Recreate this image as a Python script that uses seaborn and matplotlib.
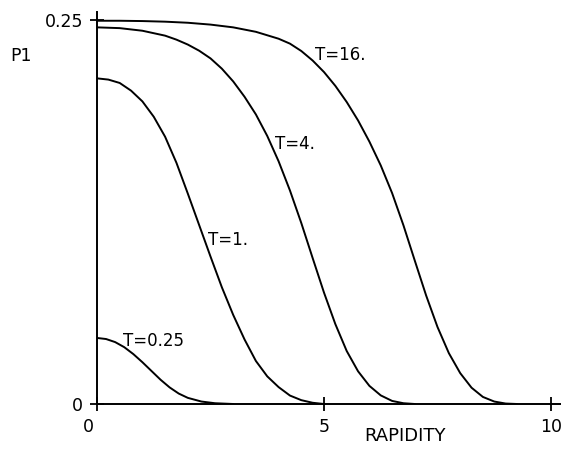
import numpy as np
import pandas as pd
import matplotlib
matplotlib.use("Agg")
import matplotlib.pyplot as plt
from matplotlib.transforms import ScaledTranslation
import seaborn as sns

# ---------------- DATA ---------------- #
x_t025 = [0, 0.2, 0.4, 0.6, 0.8, 1.0, 1.2, 1.4, 1.6, 1.8, 2.0, 2.3, 2.6, 3.0]
p_t025 = [0.043, 0.0423, 0.0403, 0.0370, 0.0325, 0.0272, 0.0215, 0.0158,
          0.0108, 0.0068, 0.0040, 0.0016, 0.0005, 0.0]

x_t1 = [0, 0.25, 0.5, 0.75, 1.0, 1.25, 1.5, 1.75, 2.0, 2.25, 2.5, 2.75,
        3.0, 3.25, 3.5, 3.75, 4.0, 4.25, 4.5, 4.75, 5.0]
p_t1 = [0.212, 0.2112, 0.209, 0.204, 0.197, 0.187, 0.174, 0.157, 0.137,
        0.1165, 0.096, 0.076, 0.058, 0.042, 0.028, 0.018, 0.011, 0.0055,
        0.0025, 0.0008, 0.0]

x_t4 = [0, 0.5, 1.0, 1.5, 1.75, 2.0, 2.25, 2.5, 2.75, 3.0, 3.25, 3.5, 3.75,
        4.0, 4.25, 4.5, 4.75, 5.0, 5.25, 5.5, 5.75, 6.0, 6.25, 6.5, 6.75, 7.0]
p_t4 = [0.2452, 0.2447, 0.2430, 0.2398, 0.2372, 0.2340, 0.2300, 0.2250,
        0.2183, 0.2100, 0.2000, 0.1885, 0.1745, 0.1580, 0.1390, 0.1178,
        0.0950, 0.0725, 0.0520, 0.0345, 0.0213, 0.0118, 0.0056, 0.0020,
        0.0005, 0.0]

x_t16 = [0, 0.5, 1.0, 1.5, 2.0, 2.5, 3.0, 3.5, 4.0, 4.25, 4.5, 4.75, 5.0,
         5.25, 5.5, 5.75, 6.0, 6.25, 6.5, 6.75, 7.0, 7.25, 7.5, 7.75, 8.0,
         8.25, 8.5, 8.75, 9.0, 9.25]
p_t16 = [0.2495, 0.2495, 0.2493, 0.2489, 0.2482, 0.2470, 0.2452, 0.2423,
         0.2378, 0.2346, 0.2298, 0.2236, 0.2161, 0.2071, 0.1966, 0.1846,
         0.1708, 0.1553, 0.1373, 0.1163, 0.0933, 0.0706, 0.0501, 0.0331,
         0.0201, 0.0106, 0.0046, 0.0016, 0.0003, 0.0]

curve_labels = ["T=0.25", "T=1.", "T=4.", "T=16."]
label_x = [0.57, 2.45, 3.92, 4.80]
label_y = [0.0407, 0.107, 0.169, 0.227]

x_ticks = [0, 5, 10]
y_ticks = [0, 0.25]
y_ticklabels = ["0", "0.25"]

# ---------------- FRAME ---------------- #
frames = []
for name, xs, ps in zip(curve_labels, [x_t025, x_t1, x_t4, x_t16],
                        [p_t025, p_t1, p_t4, p_t16]):
    frames.append(pd.DataFrame({"rapidity": xs, "p1": ps, "T": name}))
df = pd.concat(frames, ignore_index=True)

# ---------------- PLOT ---------------- #
sns.set_style("white")
plt.rcParams["font.family"] = ["DejaVu Sans"]
plt.rcParams["text.color"] = "black"

fig = plt.figure(figsize=(5.61, 4.51), dpi=100)
ax = fig.add_axes([97 / 561, 47 / 451, 464 / 561, 392 / 451])

sns.lineplot(data=df, x="rapidity", y="p1", hue="T",
             palette=["black"] * 4, legend=False, linewidth=1.4,
             estimator=None, sort=False, ax=ax)

for lab, lx, ly in zip(curve_labels, label_x, label_y):
    ax.text(lx, ly, lab, fontsize=12, ha="left", va="center", color="black")

ax.set_xlim(0, 10.22)
ax.set_ylim(0, 0.2552)
ax.set_xticks(x_ticks)
ax.set_xticklabels([str(t) for t in x_ticks])
ax.set_yticks(y_ticks)
ax.set_yticklabels(y_ticklabels)
ax.tick_params(direction="inout", length=10, width=1.3, labelsize=12.5,
               bottom=True, left=True, pad=5, colors="black")

# the "0" under the origin sits a little left of the axis in the original
lbl0 = ax.get_xticklabels()[0]
lbl0.set_transform(lbl0.get_transform() + ScaledTranslation(-6 / 72, 0, fig.dpi_scale_trans))

for side in ["top", "right"]:
    ax.spines[side].set_visible(False)
for side in ["left", "bottom"]:
    ax.spines[side].set_color("black")
    ax.spines[side].set_linewidth(1.4)

ax.set_xlabel("")
ax.set_ylabel("")
ax.text(-1.67, 0.2266, "P1", fontsize=12.5, ha="center", va="center",
        color="black", clip_on=False)
ax.text(6.78, -0.021, "RAPIDITY", fontsize=13, ha="center", va="center",
        color="black", clip_on=False)

fig.savefig("out.png", dpi=100, facecolor="white")
